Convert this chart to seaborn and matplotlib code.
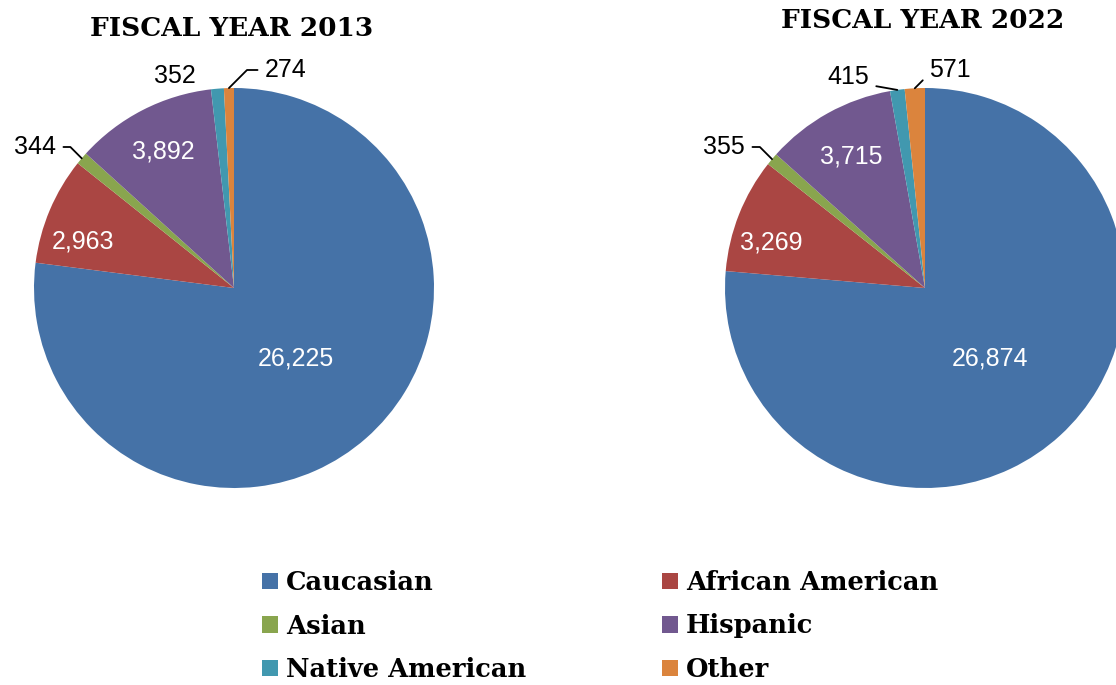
import numpy as np
import matplotlib
matplotlib.use("Agg")
from matplotlib import pyplot as plt
from matplotlib.patches import Patch
import seaborn as sns

groups = ["Caucasian", "African American", "Asian", "Hispanic", "Native American", "Other"]
fy2013 = [26225, 2963, 344, 3892, 352, 274]
fy2022 = [26874, 3269, 355, 3715, 415, 571]
titles = ["FISCAL YEAR 2013", "FISCAL YEAR 2022"]
colors = ["#4572A7", "#AA4643", "#89A54E", "#71588F", "#4198AF", "#DB843D"]

sns.set_theme(style="white")
plt.rcParams["font.family"] = ["Liberation Sans", "DejaVu Sans"]

W, H = 1116, 685
fig = plt.figure(figsize=(W / 100, H / 100), dpi=100)

# pie boxes in pixels: (left, bottom-from-top, diameter)
boxes = [(34, 488, 400), (725, 488, 400)]
title_pos = [(232, 28), (923, 20)]

# inner label (radius, angle offset in deg) per slice (None = outside label)
inner_r = [[(0.47, 0), (0.79, 6), None, (0.77, 0), None, None],
           [(0.48, 0), (0.80, 5), None, (0.755, 0), None, None]]
# outside labels: slice index -> (text xy, ha, kink angle at wedge, draw leader)
outside = [
    {2: ((-0.89, 0.705), "right", 135, True),
     4: ((-0.295, 1.06), "center", None, False),
     5: ((0.155, 1.09), "left", 45, True)},
    {2: ((-0.90, 0.705), "right", 135, True),
     4: ((-0.385, 1.055), "center", 170, True),
     5: ((0.02, 1.09), "left", 45, True)},
]

for k, vals in enumerate([fy2013, fy2022]):
    l, b, d = boxes[k]
    ax = fig.add_axes([l / W, (H - b) / H, d / W, d / H])
    wedges, _ = ax.pie(vals, colors=colors, startangle=90, counterclock=False,
                       radius=1, wedgeprops=dict(linewidth=0))
    ax.set_xlim(-1, 1)
    ax.set_ylim(-1, 1)
    ax.set_aspect("equal")
    ax.axis("off")
    for w in wedges:
        w.set_clip_on(False)
    for i, w in enumerate(wedges):
        mid = np.deg2rad((w.theta1 + w.theta2) / 2)
        txt = f"{vals[i]:,}"
        if inner_r[k][i] is not None:
            r, off = inner_r[k][i]
            a = mid + np.deg2rad(off)
            ax.text(r * np.cos(a), r * np.sin(a), txt, color="white",
                    fontsize=18, ha="center", va="center")
        else:
            (tx, ty), ha, ang, leader = outside[k][i]
            edge = (np.cos(mid), np.sin(mid))
            if leader:
                ax.annotate(txt, xy=edge, xytext=(tx, ty), ha=ha, va="center",
                            fontsize=18, color="black", annotation_clip=False,
                            arrowprops=dict(arrowstyle="-", color="black", lw=1.3,
                                            shrinkA=3, shrinkB=0,
                                            connectionstyle=f"angle,angleA=0,angleB={ang},rad=0"))
            else:
                ax.text(tx, ty, txt, ha=ha, va="center", fontsize=18, color="black")
    tx, ty = title_pos[k]
    fig.text(tx / W, 1 - ty / H, titles[k], ha="center", va="center", color="black",
             fontsize=19, fontweight="heavy", family="DejaVu Serif")

order = [0, 2, 4, 1, 3, 5]
handles = [Patch(facecolor=colors[i], edgecolor="none") for i in order]
labels = [groups[i] for i in order]
leg = fig.legend(handles, labels, ncol=2, loc="upper left",
                 bbox_to_anchor=(262 / W, 1 - 570 / H), frameon=False,
                 prop=dict(family="DejaVu Serif", weight="bold", size=18.5),
                 handlelength=0.63, handleheight=0.63, handletextpad=0.3,
                 labelspacing=0.72, columnspacing=5.28, borderpad=0, borderaxespad=0)
for t in leg.get_texts():
    t.set_color("black")

fig.savefig("out.png", dpi=100, facecolor="white")
